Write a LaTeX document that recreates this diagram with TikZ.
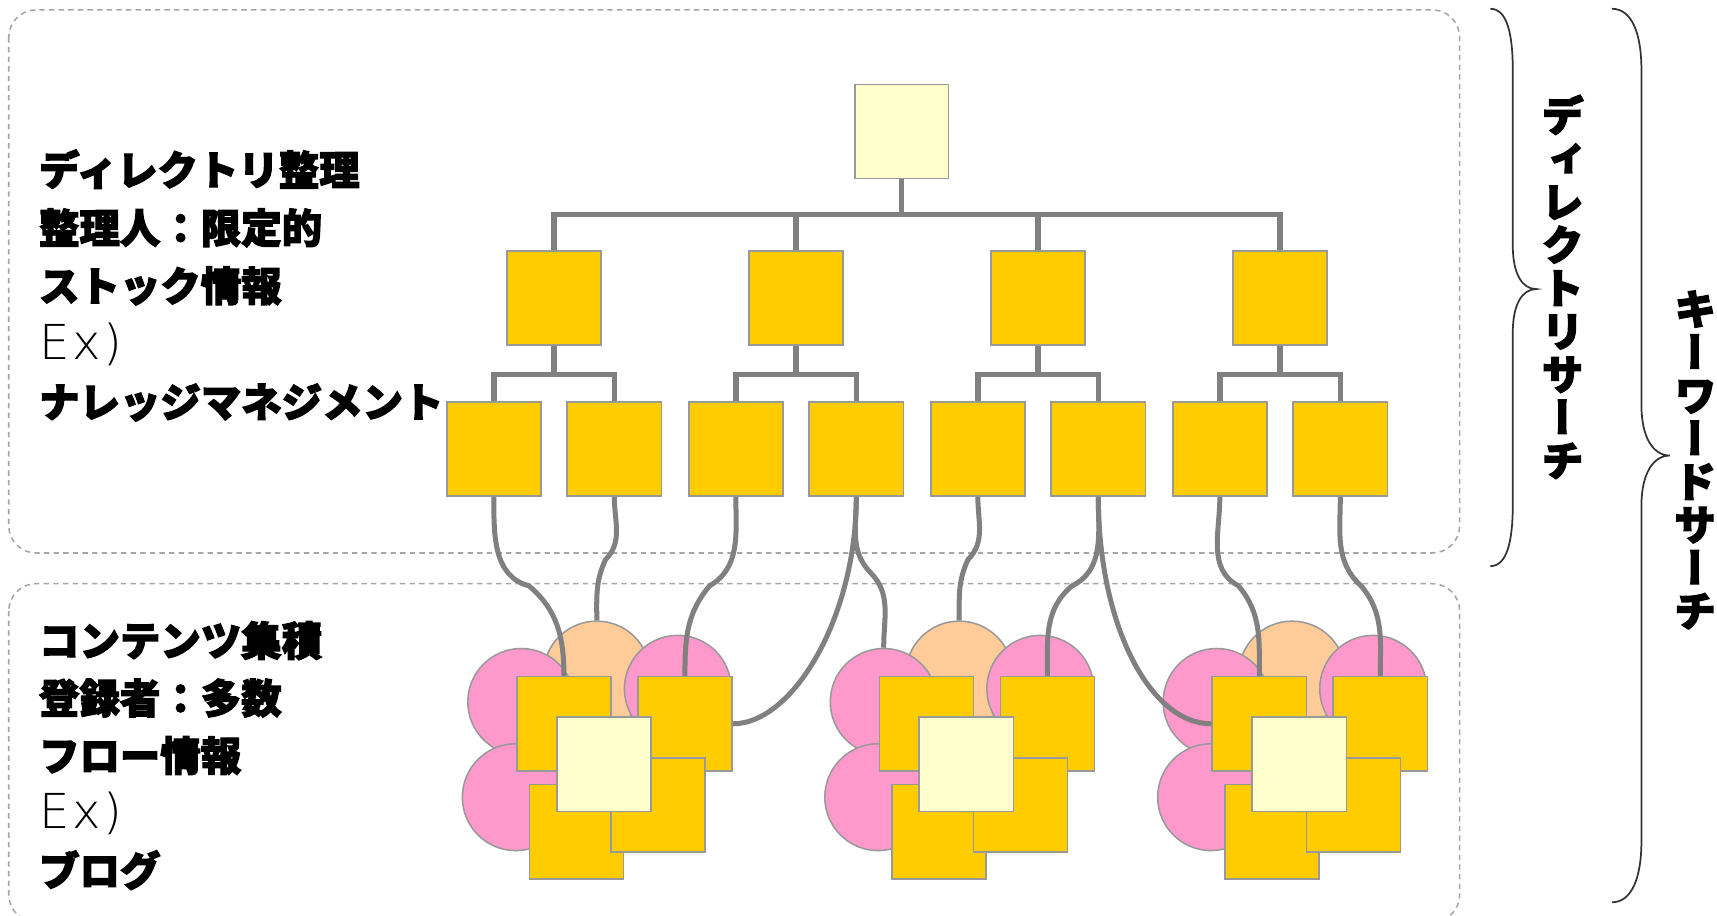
\documentclass[tikz,border=0pt]{standalone}
\usepackage{fontspec}
\usepackage{graphicx}
\newfontfamily\jpfont{Noto Sans CJK JP}[FakeBold=3]
\newfontfamily\tatefont{Noto Sans CJK JP}[RawFeature=+vert, FakeBold=3]
\newfontfamily\exfont{DejaVu Sans ExtraLight}
\usepackage{tikz}
\definecolor{gold}{HTML}{FFCC00}
\definecolor{cream}{HTML}{FFFFCC}
\definecolor{rose}{HTML}{FF99CC}
\definecolor{peach}{HTML}{FFCC99}
\definecolor{linkgray}{HTML}{808080}
\definecolor{edgegray}{HTML}{999999}
\tikzset{
    >=latex,
    box/.style={draw=edgegray, line width=0.4pt, fill=gold, minimum size=0.86cm, inner sep=0pt},
    topbox/.style={box, fill=cream},
    blob/.style={circle, draw=edgegray, line width=0.4pt, minimum size=0.975cm, inner sep=0pt},
    branch/.style={draw=linkgray, line width=1.4pt},
    link/.style={draw=linkgray, line width=1.3pt},
    group/.style={draw=gray!70, line width=0.4pt, dash pattern=on 1.4pt off 1.1pt, rounded corners=0.25cm},
    side/.style={draw=black!80, line width=0.45pt},
    lefttext/.style={anchor=base west, inner sep=0pt, font=\jpfont\bfseries\fontsize{10.5}{12}\selectfont},
    vtext/.style={align=center, inner sep=0pt, font=\tatefont\bfseries\fontsize{11}{11.2}\selectfont}
}
\newcommand{\ex}{{\exfont\mdseries\fontsize{12.5}{14}\selectfont E\kern0.06em x\kern0.06em)}}

\begin{document}
\begin{tikzpicture}[x=0.01cm, y=0.01cm]
    \useasboundingbox (0,0) rectangle (1568,-836);
    % two groups
    \draw[group] (8,-9) rectangle (1333,-505);
    \draw[group] (8,-533) rectangle (1333,-842);
    % directory tree
    \node[topbox, minimum width=0.85cm] (root) at (823.5,-120) {};
    \foreach \i in {1,...,4} {
        \node[box] (m\i) at ({506+221*(\i-1)},-272) {};
        \node[box] (la\i) at ({451+221*(\i-1)},-410) {};
        \node[box] (lb\i) at ({561+221*(\i-1)},-410) {};
        \draw[branch] (root.south) -- ++(0,-32) -| (m\i.north);
        \draw[branch] (m\i.south) -- ++(0,-26) -| (la\i.north);
        \draw[branch] (m\i.south) -- ++(0,-26) -| (lb\i.north);
    }
    % content clusters
    \foreach \dx/\k in {0/1,331/2,635/3} {
        \node[blob, fill=peach] (p\k) at ({545+\dx},-616) {};
        \node[blob, fill=rose] (qa\k) at ({476+\dx},-641) {};
        \node[blob, fill=rose] (qb\k) at ({619+\dx},-629) {};
        \node[blob, fill=rose] (qc\k) at ({471+\dx},-728) {};
        \node[box] (ul\k) at ({515+\dx},-661) {};
        \node[box] (ur\k) at ({625.5+\dx},-661) {};
        \node[box] (ll\k) at ({526.5+\dx},-759.5) {};
        \node[box] (lr\k) at ({601+\dx},-735) {};
        \node[topbox] (core\k) at ({551.5+\dx},-698) {};
    }
    % links from leaves to contents
    \coordinate (k1) at (483,-535);
    \coordinate (k2) at (553,-511);
    \coordinate (k3) at (648,-535);
    \coordinate (k4) at (795,-523);
    \coordinate (k5) at (884,-511);
    \coordinate (k6) at (979,-535);
    \coordinate (k7) at (1131,-535);
    \coordinate (k8) at (1243,-535);
    \draw[link] (la1.south) to[out=-90,in=165] (k1) to[out=-40,in=90] (ul1.north);
    \draw[link] (lb1.south) to[out=-90,in=45] (k2) to[out=-115,in=90] (p1.north);
    \draw[link] (la2.south) to[out=-90,in=30] (k3) to[out=-130,in=90] (ur1.north);
    \draw[link] (lb2.south) .. controls +(0,-110) and +(55,0) .. (ur1.east);
    \draw[link] (lb2.south) to[out=-90,in=134] (k4) to[out=-45,in=90] (qa2.north);
    \draw[link] (la3.south) to[out=-90,in=45] (k5) to[out=-115,in=90] (p2.north);
    \draw[link] (lb3.south) to[out=-90,in=26] (k6) to[out=-140,in=90] (ur2.north);
    \draw[link] (lb3.south) .. controls +(0,-115) and +(-57,0) .. (ul3.west);
    \draw[link] (la4.south) to[out=-90,in=152] (k7) to[out=-50,in=90] (ul3.north);
    \draw[link] (lb4.south) to[out=-90,in=138] (k8) to[out=-50,in=90] (ur3.north);
    % braces
    \draw[side] (1361,-8) .. controls (1376,-8) and (1381.5,-30) .. (1381.5,-64)
        -- (1381.5,-224) .. controls (1381.5,-250) and (1390,-264) .. (1403,-264)
        .. controls (1390,-264) and (1381.5,-278) .. (1381.5,-304)
        -- (1381.5,-461) .. controls (1381.5,-495) and (1376,-517) .. (1361,-517);
    \draw[side] (1472,-8) .. controls (1490,-8) and (1499,-30) .. (1499,-64)
        -- (1499,-370) .. controls (1499,-400) and (1510,-416) .. (1525,-416)
        .. controls (1510,-416) and (1499,-432) .. (1499,-462)
        -- (1499,-768) .. controls (1499,-802) and (1490,-824) .. (1472,-824);
    \node[vtext] (dirsearch) at (1427,-262) {デ\\ィ\\レ\\ク\\ト\\リ\\サ\\ー\\チ};
    \node[vtext] (kwsearch) at (1548,-420) {キ\\ー\\ワ\\ー\\ド\\サ\\ー\\チ};
    % left texts
    \foreach \t [count=\i] in {ディレクトリ整理,整理人：限定的,ストック情報,\ex,ナレッジマネジメント}
        \node[lefttext] (dir\i) at (35,{-169-53*(\i-1)}) {\t};
    \foreach \t [count=\i] in {コンテンツ集積,登録者：多数,フロー情報,\ex,ブログ}
        \node[lefttext] (blog\i) at (35,{-599-52.5*(\i-1)}) {\t};
\end{tikzpicture}
\end{document}
